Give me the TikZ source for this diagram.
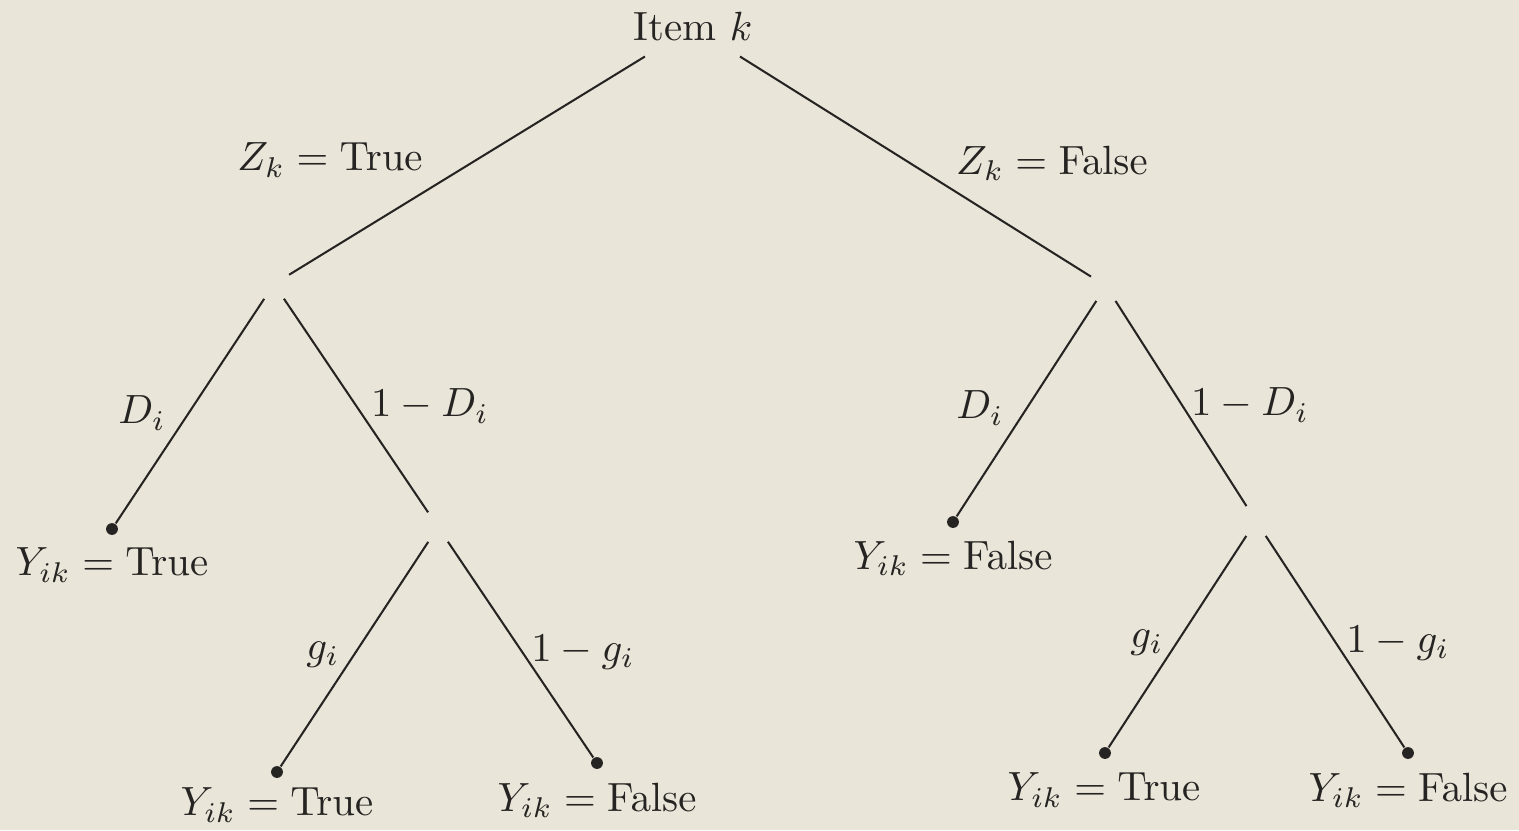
\documentclass[tikz,border=0pt]{standalone}
\usepackage{xcolor}
\definecolor{paper}{RGB}{234,229,217}
\definecolor{ink}{RGB}{38,36,34}
\begin{document}
\begin{tikzpicture}[x=0.245pt,y=-0.245pt,
  branch/.style={draw=ink, line width=0.5pt},
  split/.style={circle, inner sep=0pt, minimum size=8.3pt},
  leaf/.style={circle, fill=ink, inner sep=0pt, minimum size=2.9pt},
  lab/.style={text=ink, inner sep=0pt},
  rootlab/.style={text=ink, inner sep=3.5pt}]
\fill[paper] (0,0) rectangle (1519,830);
\useasboundingbox (0,0) rectangle (1519,830);
% nodes
\node[rootlab] (root) at (693,27) {Item $k$};
\node[split] (L1) at (274,284) {};
\node[split] (R1) at (1106,286) {};
\node[split] (L2) at (438,527) {};
\node[split] (R2) at (1256,521) {};
\node[leaf] (a) at (112,529) {};
\node[leaf] (b) at (277,772) {};
\node[leaf] (c) at (597,763) {};
\node[leaf] (d) at (953,522) {};
\node[leaf] (e) at (1105,753) {};
\node[leaf] (f) at (1408,753) {};
% leaf labels
\node[lab] (ta) at (112,565) {$Y_{ik}=\mathrm{True}$};
\node[lab] (tb) at (277,805) {$Y_{ik}=\mathrm{True}$};
\node[lab] (tc) at (597,800) {$Y_{ik}=\mathrm{False}$};
\node[lab] (td) at (953,558) {$Y_{ik}=\mathrm{False}$};
\node[lab] (te) at (1104,790) {$Y_{ik}=\mathrm{True}$};
\node[lab] (tf) at (1408,790) {$Y_{ik}=\mathrm{False}$};
% connectors
\draw[branch] (root) -- (L1);
\draw[branch] (root) -- (R1);
\draw[branch] (L1) -- (a);
\draw[branch] (L1) -- (L2);
\draw[branch] (L2) -- (b);
\draw[branch] (L2) -- (c);
\draw[branch] (R1) -- (d);
\draw[branch] (R1) -- (R2);
\draw[branch] (R2) -- (e);
\draw[branch] (R2) -- (f);
% edge labels
\node[lab] (z1) at (330,160) {$Z_k=\mathrm{True}$};
\node[lab] (z2) at (1052,163) {$Z_k=\mathrm{False}$};
\node[lab] (d1) at (142,413) {$D_i$};
\node[lab] (d2) at (430,406) {$1-D_i$};
\node[lab] (d3) at (980,408) {$D_i$};
\node[lab] (d4) at (1250,405) {$1-D_i$};
\node[lab] (g1) at (323,655) {$g_i$};
\node[lab] (g2) at (583,652) {$1-g_i$};
\node[lab] (g3) at (1147,643) {$g_i$};
\node[lab] (g4) at (1398,643) {$1-g_i$};
\end{tikzpicture}
\end{document}
